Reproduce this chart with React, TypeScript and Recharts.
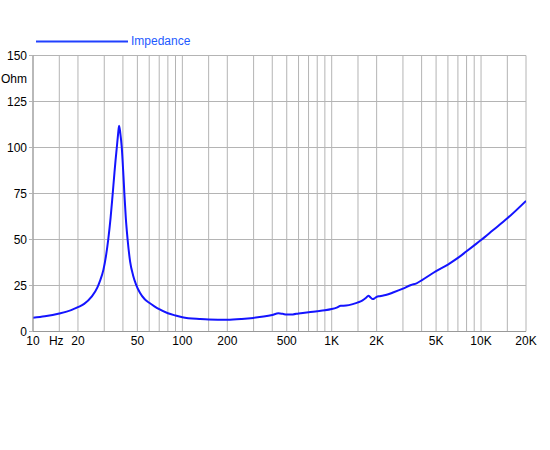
import { LineChart, Line, XAxis, YAxis, CartesianGrid } from "recharts";

// impedance curve
const freqs = [
  10, 12, 15, 18, 20, 22, 24.7, 27, 28.1, 29.6, 30.8, 31.9, 33.1, 34.1, 35, 35.7, 36.4, 37.1, 37.7, 38.4,
  39.3, 40.3, 40.9, 41.8, 43, 44.7, 46.8, 49, 52, 56, 60, 65, 70, 80, 90, 100, 130, 150, 200, 250, 300,
  350, 400, 440, 470, 500, 550, 600, 700, 800, 900, 1000, 1080, 1150, 1250, 1400, 1500, 1600, 1700, 1760,
  1820, 1880, 1950, 2000, 2100, 2300, 2600, 3000, 3400, 3700, 4000, 5000, 6000, 7000, 8000, 9000, 10000,
  12000, 15000, 20000,
];
const ohms = [
  7.5, 8.3, 9.8, 11.6, 13.2, 15, 18.9, 24, 27.5, 33.5, 41, 50, 62, 74, 85, 93, 100, 107, 111.8, 108,
  100, 85, 75, 62, 50, 38, 30.5, 25.5, 21, 17.5, 15.6, 13.7, 12.1, 9.9, 8.7, 7.8, 6.8, 6.5, 6.4, 6.8, 7.4,
  8.1, 9, 9.9, 9.6, 9.2, 9.3, 9.8, 10.5, 11, 11.5, 12.2, 13, 14, 14.1, 15, 15.8, 16.8, 18.3, 19.4,
  18.5, 17.6, 18.2, 18.8, 19.2, 19.8, 21.3, 23.3, 25.3, 26.2, 27.8, 32.8, 36.4, 40, 43.6, 46.8, 49.7,
  55, 61.5, 71,
];
const seriesName = "Impedance";

const xGrid = [
  10, 15, 20, 30, 40, 50, 60, 70, 80, 90, 100, 150, 200, 300, 400, 500, 600, 700, 800, 900, 1000, 1500,
  2000, 3000, 4000, 5000, 6000, 7000, 8000, 9000, 10000, 15000, 20000,
];
const xLabels: Record<number, string> = {
  10: "10", 15: "Hz", 20: "20", 50: "50", 100: "100", 200: "200", 500: "500",
  1000: "1K", 2000: "2K", 5000: "5K", 10000: "10K", 20000: "20K",
};
const yGrid = [0, 25, 50, 75, 100, 125, 150];
const yTicks = [0, 25, 50, 75, 100, 125, 137.5, 150];
const yUnit = "Ohm";

const data = freqs.map((f, i) => ({ f, z: ohms[i] }));

const font = "'Liberation Sans', Arial, sans-serif";
const gridColor = "#b4b4b4";
const curveColor = "#1414ff";

const XTick = (props: any) => {
  const { x, y, payload } = props;
  const label = xLabels[payload.value] ?? "";
  return (
    <text x={label === "Hz" ? x - 3 : x} y={y} dy="0.71em" textAnchor="middle" fontSize={12} fontFamily={font} fill="#000">
      {label}
    </text>
  );
};

const YTick = (props: any) => {
  const { x, y, payload } = props;
  const isUnit = payload.value === 137.5;
  return (
    <g>
      {!isUnit && <line x1={x + 2} x2={x + 6} y1={y} y2={y} stroke={gridColor} />}
      <text x={x} y={y} dy="0.355em" textAnchor="end" fontSize={12} fontFamily={font} fill="#000">
        {isUnit ? yUnit : payload.value}
      </text>
    </g>
  );
};

const App = () => (
  <div style={{ position: "absolute", left: 0, top: 0, width: 550, height: 450 }}>
    <LineChart width={550} height={450} data={data} margin={{ top: 55.5, right: 24, left: 0, bottom: 88.5 }}>
      <CartesianGrid stroke={gridColor} horizontalValues={yGrid} verticalValues={xGrid} />
      <XAxis
        dataKey="f"
        type="number"
        scale="log"
        domain={[10, 20000]}
        ticks={xGrid}
        interval={0}
        height={30}
        tickSize={0}
        tickMargin={5}
        tickLine={false}
        stroke="#999"
        tick={<XTick />}
        allowDataOverflow
      />
      <YAxis
        type="number"
        domain={[0, 150]}
        ticks={yTicks}
        interval={0}
        width={33}
        tickSize={0}
        tickMargin={6}
        tickLine={false}
        stroke="#999"
        tick={<YTick />}
      />
      <Line
        dataKey="z"
        name={seriesName}
        type="monotone"
        stroke={curveColor}
        strokeWidth={2}
        dot={false}
        isAnimationActive={false}
      />
    </LineChart>
    <div style={{ position: "absolute", left: 36, top: 33, display: "flex", alignItems: "center", fontFamily: font }}>
      <svg width={95} height={16}>
        <line x1={0} x2={92} y1={8.5} y2={8.5} stroke="#2040ff" strokeWidth={2} />
      </svg>
      <span style={{ fontSize: 12, color: "#1e5aff", lineHeight: "16px" }}>{seriesName}</span>
    </div>
  </div>
);

export default App;
